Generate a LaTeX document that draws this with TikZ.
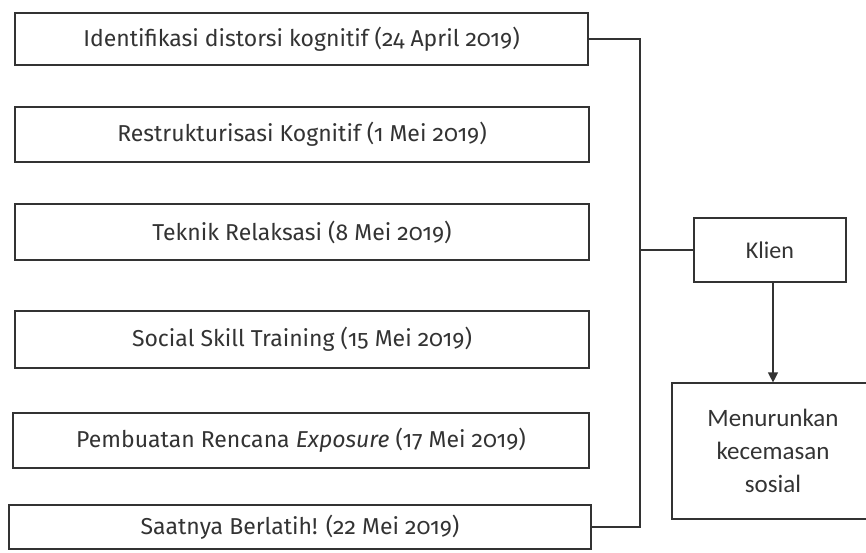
\documentclass[tikz,border=0pt]{standalone}
\usepackage{fontspec}
\setmainfont[Numbers=OldStyle]{Fira Sans}
\newfontfamily\kotak{Carlito}
\usetikzlibrary{arrows.meta}

\begin{document}
\begin{tikzpicture}[x=1pt,y=-1pt,
    sesi/.style={draw=ink,line width=1.2pt,text=ink,inner sep=0pt,
      font=\fontsize{23}{27}\selectfont},
    garis/.style={draw=ink,line width=1.2pt}]
    % colours and page %
    \definecolor{ink}{rgb}{0.2,0.2,0.2}
    \useasboundingbox (0,0) rectangle (866,552);

    % sessions %
    \node[sesi,minimum width=573pt,minimum height=52pt] (s1) at (301.5,39) {Identifikasi distorsi kognitif (24 April 2019)};
    \node[sesi,minimum width=574pt,minimum height=55pt] (s2) at (302,134.5) {Restrukturisasi Kognitif (1 Mei 2019)};
    \node[sesi,minimum width=574pt,minimum height=56pt] (s3) at (302,232) {Teknik Relaksasi (8 Mei 2019)};
    \node[sesi,minimum width=574pt,minimum height=57pt] (s4) at (302,339.5) {Social Skill Training (15 Mei 2019)};
    \node[sesi,minimum width=576pt,minimum height=55pt] (s5) at (301,440.5) {Pembuatan Rencana \textit{Exposure} (17 Mei 2019)};
    \node[sesi,minimum width=582pt,minimum height=44pt] (s6) at (300,527) {Saatnya Berlatih! (22 Mei 2019)};

    % client and outcome %
    \node[sesi,minimum width=152pt,minimum height=64pt,
      font=\kotak\fontsize{24}{28}\selectfont] (klien) at (770,250) {Klien};
    \node[sesi,minimum width=202pt,minimum height=136pt,align=center,
      font=\kotak\fontsize{25}{33}\selectfont] (hasil) at (773,451) {Menurunkan\\kecemasan\\sosial};

    % connectors %
    \coordinate (spine) at (640,0);
    \draw[garis] (s1.east) -- (s1.east -| spine) -- (s6.east -| spine) -- (s6.east);
    \draw[garis] (klien.west -| spine) -- (klien.west);
    \draw[garis,-{Triangle[width=10pt,length=10pt]}] (klien.south -| hasil.north) -- (hasil.north);
\end{tikzpicture}
\end{document}
